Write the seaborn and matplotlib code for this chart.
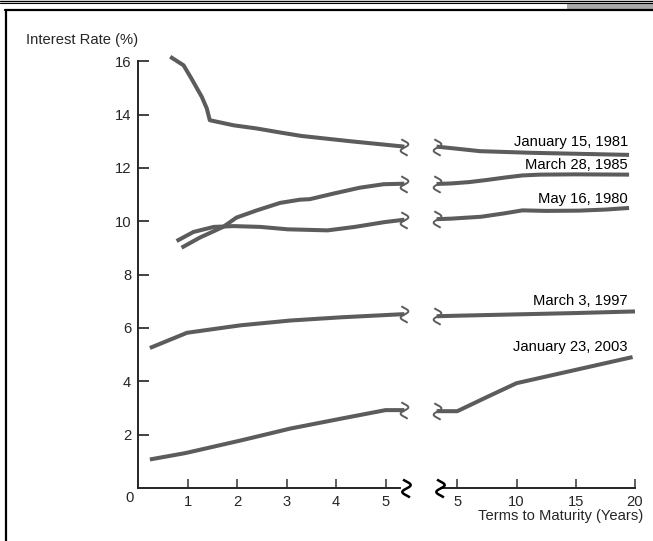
import numpy as np
import pandas as pd
import matplotlib
matplotlib.use("Agg")
import matplotlib.pyplot as plt
import seaborn as sns
from matplotlib.path import Path
from matplotlib.lines import Line2D
from matplotlib.patches import Rectangle

# ---------------- data ----------------
series_names = ["January 15, 1981", "March 28, 1985", "May 16, 1980",
                "March 3, 1997", "January 23, 2003"]

# short maturities (left panel, years 0-5)
jan1981_left_x = [0.65, 0.92, 1.08, 1.29, 1.39, 1.45, 1.93, 2.4, 2.87, 3.3, 4.3, 5.38]
jan1981_left_y = [16.17, 15.85, 15.35, 14.66, 14.23, 13.79, 13.6, 13.48, 13.33, 13.2, 13.0, 12.8]
mar1985_left_x = [0.88, 1.25, 1.72, 1.99, 2.40, 2.87, 3.27, 3.47, 3.95, 4.48, 4.96, 5.38]
mar1985_left_y = [9.01, 9.39, 9.79, 10.14, 10.41, 10.69, 10.81, 10.83, 11.04, 11.26, 11.39, 11.41]
may1980_left_x = [0.78, 1.12, 1.53, 1.93, 2.47, 3.02, 3.83, 4.38, 4.98, 5.38]
may1980_left_y = [9.26, 9.6, 9.79, 9.82, 9.79, 9.7, 9.66, 9.79, 9.97, 10.06]
mar1997_left_x = [0.24, 0.99, 2.07, 3.08, 4.1, 5.38]
mar1997_left_y = [5.25, 5.82, 6.1, 6.28, 6.4, 6.52]
jan2003_left_x = [0.24, 0.96, 2.07, 3.08, 4.1, 5.0, 5.38]
jan2003_left_y = [1.07, 1.31, 1.78, 2.23, 2.6, 2.92, 2.92]

# long maturities (right panel, years 5-20)
jan1981_right_x = [3.25, 5, 6.9, 9, 11.1, 15.3, 19.5]
jan1981_right_y = [12.8, 12.72, 12.63, 12.6, 12.57, 12.53, 12.49]
mar1985_right_x = [3.25, 4.5, 6, 7.5, 9, 10.5, 12, 15, 19.5]
mar1985_right_y = [11.4, 11.42, 11.47, 11.55, 11.64, 11.72, 11.75, 11.76, 11.75]
may1980_right_x = [3.25, 4.5, 7, 9, 10.5, 12.5, 15.3, 17.5, 19.5]
may1980_right_y = [10.08, 10.1, 10.17, 10.3, 10.41, 10.39, 10.4, 10.44, 10.5]
mar1997_right_x = [3.25, 5, 10, 15, 20]
mar1997_right_y = [6.44, 6.46, 6.51, 6.56, 6.62]
jan2003_right_x = [3.25, 5, 7.5, 10, 19.8]
jan2003_right_y = [2.88, 2.88, 3.41, 3.93, 4.91]

left_yticks = [2, 4, 6, 8, 10, 12, 14, 16]
left_xticks = [1, 2, 3, 4, 5]
right_xticks = [5, 10, 15, 20]

# ---------------- figure ----------------
sns.set_style("white")
plt.rcParams["font.family"] = ["Liberation Sans", "DejaVu Sans"]

W, H = 653, 541
fig = plt.figure(figsize=(W / 100, H / 100), dpi=100)

LINE = "#5c5c5c"
FS = 10.6

def fx(px):
    return px / W

def fy(py):
    return 1 - py / H

bottom_px, top_px = 488, 488 - 16.7 * 26.67
axL = fig.add_axes([fx(138), fy(bottom_px), (420.2 - 138) / W, (bottom_px - top_px) / H])
axR = fig.add_axes([fx(433.6), fy(bottom_px), (640.9 - 433.6) / W, (bottom_px - top_px) / H],
                   sharey=axL)
axL.set_xlim(0, 5.7)
axR.set_xlim(3.0, 20.5)
axL.set_ylim(0, 16.7)

left_data = {
    series_names[0]: (jan1981_left_x, jan1981_left_y),
    series_names[1]: (mar1985_left_x, mar1985_left_y),
    series_names[2]: (may1980_left_x, may1980_left_y),
    series_names[3]: (mar1997_left_x, mar1997_left_y),
    series_names[4]: (jan2003_left_x, jan2003_left_y),
}
right_data = {
    series_names[0]: (jan1981_right_x, jan1981_right_y),
    series_names[1]: (mar1985_right_x, mar1985_right_y),
    series_names[2]: (may1980_right_x, may1980_right_y),
    series_names[3]: (mar1997_right_x, mar1997_right_y),
    series_names[4]: (jan2003_right_x, jan2003_right_y),
}

# break-mark marker (vertical S with hooks)
t = np.linspace(-1.3, 1.3, 60)
squig = Path(np.column_stack([0.6 * np.sin(np.pi * t), t]))

for name in series_names:
    xl, yl = left_data[name]
    xr, yr = right_data[name]
    sns.lineplot(x=xl, y=yl, ax=axL, color=LINE, lw=2.9, sort=False, estimator=None,
                 solid_capstyle="butt", solid_joinstyle="round")
    sns.lineplot(x=xr, y=yr, ax=axR, color=LINE, lw=2.9, sort=False, estimator=None,
                 solid_capstyle="butt", solid_joinstyle="round")
    axL.plot([xl[-1]], [yl[-1]], marker=squig, ms=12, mfc="none", mec=LINE, mew=1.4,
             clip_on=False, zorder=5)
    axR.plot([xr[0]], [yr[0]], marker=squig, ms=12, mfc="none", mec=LINE, mew=1.4,
             clip_on=False, zorder=5)

# curve labels, anchored to each right-hand series end
label_dy = [13, 10, 9, 10, 10.5]
for name, dy in zip(series_names, label_dy):
    xr, yr = right_data[name]
    axR.annotate(name, xy=(19.4, yr[-1]), xytext=(0, dy * 0.72), textcoords="offset points",
                 ha="right", va="center", fontsize=FS, color="black")

# spines / ticks
for ax in (axL, axR):
    ax.spines["top"].set_visible(False)
    ax.spines["right"].set_visible(False)
    ax.spines["bottom"].set_linewidth(1.4)
    ax.spines["left"].set_linewidth(1.4)
    ax.set_xlabel("")
    ax.set_ylabel("")
    ax.patch.set_alpha(0)

axL.spines["left"].set_bounds(0, 16)
axL.spines["bottom"].set_bounds(0, 5.3)
axR.spines["left"].set_visible(False)
axR.spines["bottom"].set_bounds(3.65, 20)

axL.set_yticks(left_yticks)
axL.set_yticklabels([str(v) for v in left_yticks])
axL.set_xticks(left_xticks)
axL.set_xticklabels([str(v) for v in left_xticks])
axR.set_xticks(right_xticks)
axR.set_xticklabels([str(v) for v in right_xticks])
axL.tick_params(axis="y", which="major", left=True, direction="in", length=8, width=1.3,
                pad=5.0, labelsize=FS, color="#333333")
axL.tick_params(axis="x", which="major", bottom=True, direction="in", length=6.5, width=1.1,
                pad=5, labelsize=FS, color="#333333")
axR.tick_params(axis="x", which="major", bottom=True, direction="in", length=6.5, width=1.1,
                pad=5, labelsize=FS, color="#333333")
axR.tick_params(axis="y", left=False, labelleft=False)

# axis break marks
axL.plot([5.42], [0], marker=squig, ms=13, mfc="none", mec="black", mew=1.8,
         clip_on=False, zorder=6)
axR.plot([3.55], [0], marker=squig, ms=13, mfc="none", mec="black", mew=1.8,
         clip_on=False, zorder=6)

# texts
fig.text(fx(130), fy(498), "0", ha="center", va="center", fontsize=FS)
fig.text(fx(26.5), fy(40), "Interest Rate (%)", ha="left", va="center", fontsize=FS)
fig.text(fx(643), fy(516), "Terms to Maturity (Years)", ha="right", va="center", fontsize=FS)

# page frame decorations
fig.add_artist(Line2D([0, 1], [fy(1), fy(1)], transform=fig.transFigure, color="black", lw=1.0))
fig.add_artist(Line2D([0, 1], [fy(3), fy(3)], transform=fig.transFigure, color="black", lw=0.8))
fig.add_artist(Rectangle((fx(567), fy(9)), fx(653) - fx(567), fy(3.3) - fy(9),
                         transform=fig.transFigure, color="#aaaaaa", lw=0))
fig.add_artist(Line2D([fx(5), 1], [fy(10), fy(10)], transform=fig.transFigure,
                      color="black", lw=1.6))
fig.add_artist(Line2D([fx(6), fx(6)], [0, fy(10)], transform=fig.transFigure,
                      color="black", lw=1.6))

fig.savefig("out.png", dpi=100)
